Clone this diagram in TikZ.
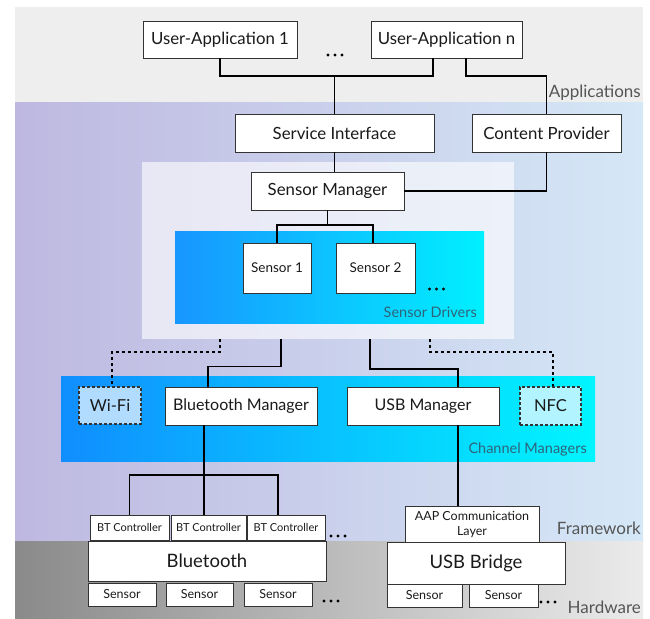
\documentclass[tikz,border=0pt]{standalone}
\usepackage{fontspec}
\setmainfont{Lato}
\usetikzlibrary{calc}
\definecolor{appgray}{HTML}{EEEEEE}
\definecolor{fwL}{HTML}{BEB8E0}
\definecolor{fwR}{HTML}{D5E8F7}
\definecolor{hwL}{HTML}{8A8A8A}
\definecolor{hwR}{HTML}{EBEBEB}
\definecolor{drvL}{HTML}{1896FF}
\definecolor{drvR}{HTML}{00F0FF}
\definecolor{chmL}{HTML}{108EFF}
\definecolor{chmR}{HTML}{00F6FF}
\definecolor{wififill}{HTML}{B2DCFF}
\definecolor{nfcfill}{HTML}{B2F4FF}
\definecolor{boxline}{HTML}{333333}
\definecolor{txt}{HTML}{1A1A1A}
\definecolor{lblgray}{HTML}{555555}
\definecolor{lblteal}{HTML}{2E6478}
\begin{document}
\begin{tikzpicture}[x=1pt,y=-1pt,
  box/.style={draw=boxline, line width=0.8pt, fill=white, inner sep=0pt, text=txt, align=center},
  big/.style={font=\fontsize{16.8}{19}\selectfont},
  mid/.style={font=\fontsize{13.5}{15}\selectfont},
  small/.style={font=\fontsize{11}{13}\selectfont},
  hwsmall/.style={font=\fontsize{12.5}{15}\selectfont},
  dashbox/.style={draw=boxline, line width=1.2pt, dash pattern=on 3pt off 2pt, inner sep=0pt, text=txt, font=\fontsize{16.5}{18}\selectfont},
  conn/.style={line width=1.6pt, draw=black},
  dashd/.style={line width=1.7pt, draw=black, dash pattern=on 3pt off 3pt},
  bandlbl/.style={anchor=base east, inner sep=0pt, text=lblgray, font=\fontsize{17}{17}\selectfont},
  grplbl/.style={anchor=base east, inner sep=0pt, text=lblteal, font=\fontsize{14.5}{15}\selectfont},
  dot/.style={fill=black}
]
\useasboundingbox (0,0) rectangle (650,618);
\fill[white] (0,0) rectangle (650,618);
% bands
\fill[appgray] (15,7) rectangle (643,102);
\shade[left color=fwL, right color=fwR] (15,102) rectangle (643,541);
\shade[left color=hwL, right color=hwR] (15,541) rectangle (643,618);
% regions
\node[fill=white, fill opacity=0.62, inner sep=0pt, minimum width=372pt, minimum height=177pt] (panel) at (328,250.5) {};
\node[left color=drvL, right color=drvR, inner sep=0pt, minimum width=309pt, minimum height=92pt] (drv) at (329.5,277) {};
\node[left color=chmL, right color=chmR, inner sep=0pt, minimum width=534pt, minimum height=85pt] (chm) at (328,418.5) {};
% labels
\node[bandlbl] (lapp) at (641,97) {Applications};
\node[bandlbl] (lfw) at (641,534) {Framework};
\node[bandlbl] (lhw) at (641,613.5) {Hardware};
\node[grplbl] (ldrv) at (477,317) {Sensor Drivers};
\node[grplbl] (lchm) at (587,453) {Channel Managers};
% boxes
\node[box, big, minimum width=154pt, minimum height=37pt] (ua1) at (220,39.5) {User-Application 1};
\node[box, big, minimum width=151pt, minimum height=37pt] (uan) at (446.5,39.5) {User-Application n};
\node[box, big, minimum width=199pt, minimum height=38pt] (si) at (334.5,133) {Service Interface};
\node[box, big, minimum width=149pt, minimum height=38pt] (cp) at (546.5,133) {Content Provider};
\node[box, big, minimum width=153pt, minimum height=38pt] (sm) at (327.5,191) {Sensor Manager};
\node[box, mid, minimum width=68pt, minimum height=50pt] (s1) at (277,268) {Sensor 1};
\node[box, mid, minimum width=79pt, minimum height=50pt] (s2) at (375.5,268) {Sensor 2};
\node[dashbox, fill=wififill, minimum width=62pt, minimum height=37pt] (wifi) at (110,405.5) {Wi-Fi};
\node[box, font=\fontsize{16}{18}\selectfont, minimum width=152pt, minimum height=38pt] (btm) at (241,406) {Bluetooth Manager};
\node[box, font=\fontsize{16}{18}\selectfont, minimum width=152pt, minimum height=38pt] (usbm) at (423,406) {USB Manager};
\node[dashbox, fill=nfcfill, minimum width=61pt, minimum height=38pt] (nfc) at (550.5,406) {NFC};
\node[box, small, minimum width=79pt, minimum height=25pt] (btc1) at (129.5,527.5) {BT Controller};
\node[box, small, minimum width=75pt, minimum height=25pt] (btc2) at (208.5,527.5) {BT Controller};
\node[box, small, minimum width=78pt, minimum height=25pt] (btc3) at (286,527.5) {BT Controller};
\node[box, font=\fontsize{18.5}{20}\selectfont, minimum width=238pt, minimum height=40pt] (bt) at (207,561) {Bluetooth};
\node[box, hwsmall, minimum width=68pt, minimum height=23pt] (hs1) at (122,594.5) {Sensor};
\node[box, hwsmall, minimum width=67pt, minimum height=23pt] (hs2) at (199.5,594.5) {Sensor};
\node[box, hwsmall, minimum width=68pt, minimum height=23pt] (hs3) at (278,594.5) {Sensor};
\node[box, font=\fontsize{12.5}{15}\selectfont, minimum width=134pt, minimum height=36pt] (aap) at (472,524) {AAP Communication\\Layer};
\node[box, font=\fontsize{18.5}{20}\selectfont, minimum width=178pt, minimum height=42pt] (usbb) at (476,563) {USB Bridge};
\node[box, hwsmall, minimum width=75pt, minimum height=23pt] (us1) at (424.5,595.5) {Sensor};
\node[box, hwsmall, minimum width=69pt, minimum height=23pt] (us2) at (503.5,595.5) {Sensor};
% ellipses (dots)
\foreach \cx/\cy in {335/55, 436.5/289, 338/536, 331/601, 548/602}{
  \foreach \d in {-7,0,7}{
    \fill[dot] (\cx+\d,\cy) circle (1.7pt);
  }
}
% junctions
\coordinate (ja) at (334.5,76);
\coordinate (jb) at (546.5,76);
\coordinate (jc) at (327.5,225);
\coordinate (jd) at (208,366.5);
\coordinate (je) at (458,369);
\coordinate (jf) at (112,352);
\coordinate (jg) at (553,352);
\coordinate (jh) at (204,475);
% connectors
\draw[conn] (ua1.south) |- (ja) -| ([xshift=-13.5pt]uan.south);
\draw[conn] (ja) -- (si.north);
\draw[conn] ([xshift=19.5pt]uan.south) |- (jb) -- (cp.north);
\draw[conn] (si.south) -- (si.south |- sm.north);
\draw[conn] (cp.south) |- (sm.east);
\draw[conn] (sm.south) -- (jc);
\draw[conn] (s1.north) |- (jc) -| ([xshift=-2.5pt]s2.north);
\draw[conn] ([xshift=-47pt]panel.south) |- (jd) -- (jd |- btm.north);
\draw[conn] ([xshift=42pt]panel.south) |- (je) -- (je |- usbm.north);
\draw[dashd] ([xshift=-108pt]panel.south) |- (jf) -- (jf |- wifi.north);
\draw[dashd] ([xshift=102pt]panel.south) |- (jg) -- (jg |- nfc.north);
\draw[conn] (jh |- btm.south) -- (jh);
\draw[conn] (btc1.north) |- (jh) -| ([xshift=-8pt]btc3.north);
\draw[conn] (jh) -- (jh |- btc2.north);
\draw[conn] (je |- usbm.south) -- (je |- aap.north);
\end{tikzpicture}
\end{document}
